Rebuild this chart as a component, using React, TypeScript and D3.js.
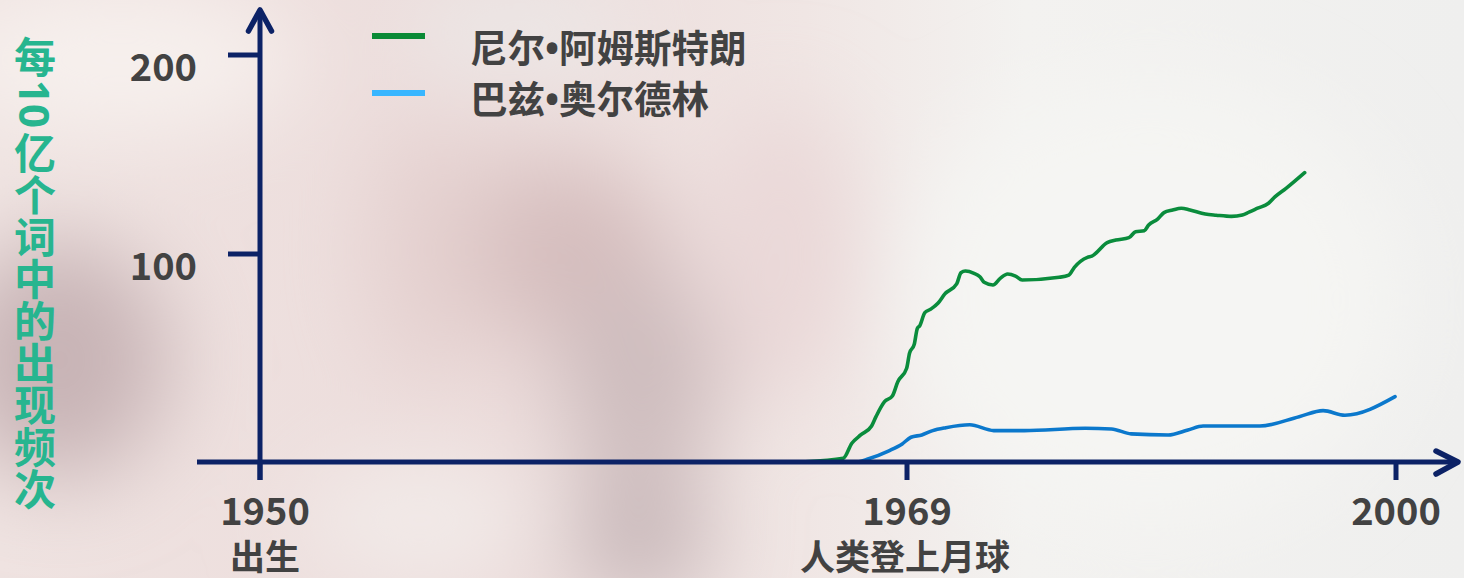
import React from "react";
import * as d3 from "d3";

const W = 1464;
const H = 578;

const xTickYears = [1950, 1969, 2000];
const xTickLabels = ["1950", "1969", "2000"];
const xTickNotes = ["出生", "人类登上月球", ""];
const yTicks = [100, 200];
const yTitleParts = ["每", "10", "亿个词中的出现频次"];

const seriesNames = ["尼尔•阿姆斯特朗", "巴兹•奥尔德林"];
const lineColors = ["#0a8c3c", "#0b78cc"];
const legendColors = ["#0a8a36", "#38b6ff"];

const armstrongYears = [
  1966.01, 1967.13, 1967.38, 1967.64, 1967.96, 1968.09, 1968.34, 1968.57, 1968.73, 1968.99,
  1969.16, 1969.46, 1969.66, 1969.8, 1970.13, 1970.49, 1970.96, 1971.4, 1972.15, 1972.42,
  1972.7, 1973.25, 1973.62, 1973.89, 1974.45, 1974.91, 1975.38, 1975.88, 1976.3, 1978.65,
  1979.26, 1979.61, 1980.44, 1980.72, 1981.69, 1982.24, 1983.07, 1983.49, 1984.04, 1984.32,
  1984.87, 1985.29, 1985.84, 1986.39, 1986.94, 1987.91, 1988.6, 1989.57, 1990.26, 1990.68,
  1991.23, 1991.92, 1992.34, 1993.03, 1994.21,
];
const armstrongValues = [
  0.1, 1.8, 9.0, 13.0, 17.3, 21.8, 29.0, 31.7, 38.6, 45.1,
  52.3, 56.6, 64.3, 65.4, 71.8, 73.4, 76.3, 80.8, 85.6, 91.0,
  91.8, 90.7, 89.1, 86.4, 85.1, 88.3, 90.4, 89.4, 87.5, 88.8,
  89.9, 93.6, 98.4, 99.0, 105.7, 107.0, 108.2, 111.2, 111.7, 114.6,
  117.4, 120.8, 122.1, 123.0, 122.1, 120.1, 119.5, 118.9, 119.6, 121.0,
  123.0, 125.5, 128.8, 133.0, 140.9,
];

const aldrinYears = [
  1966.87, 1967.58, 1967.83, 1968.47, 1968.86, 1969.25, 1969.94, 1970.63, 1971.46, 1972.98,
  1974.5, 1976.44, 1980.3, 1981.96, 1983.21, 1985.56, 1986.81, 1987.77, 1991.37, 1993.86,
  1995.38, 1996.76, 1999.94,
];
const aldrinValues = [
  0.0, 0.1, 1.3, 5.4, 8.7, 11.9, 13.0, 15.1, 16.5, 17.9,
  15.1, 15.1, 16.2, 15.9, 13.5, 13.0, 15.4, 17.3, 17.3, 21.8,
  24.7, 22.5, 31.4,
];

const AXIS = "#0c2266";
const TEXT = "#424242";
const TEAL = "#27b58f";
const FONT = "'Noto Sans CJK SC', 'Noto Sans', sans-serif";
const LATIN = "'Noto Sans', 'DejaVu Sans', sans-serif";

export default function App() {
  const x = d3.scaleLinear().domain([1950, 1969, 2000]).range([260, 907, 1396]);
  const y = d3.scaleLinear().domain([0, 100, 200]).range([462, 254, 55]);
  const x0 = x(1950);
  const y0 = y(0);

  const line = d3
    .line<[number, number]>()
    .x((d) => x(d[0]))
    .y((d) => y(d[1]))
    .curve(d3.curveMonotoneX);

  const series = [
    armstrongYears.map((yr, i) => [yr, armstrongValues[i]] as [number, number]),
    aldrinYears.map((yr, i) => [yr, aldrinValues[i]] as [number, number]),
  ];

  const vertical = { writingMode: "vertical-rl" } as React.CSSProperties;

  return (
    <svg
      width={W}
      height={H}
      viewBox={`0 0 ${W} ${H}`}
      style={{ position: "absolute", left: 0, top: 0, display: "block" }}
      fontFamily={FONT}
    >
      <defs>
        <filter id="blur" x="-50%" y="-50%" width="200%" height="200%">
          <feGaussianBlur stdDeviation="45" />
        </filter>
        <linearGradient id="bgGrad" x1="0" y1="0" x2="1" y2="0">
          <stop offset="0" stopColor="#efe3e1" />
          <stop offset="0.35" stopColor="#ecdcdb" />
          <stop offset="0.55" stopColor="#f0e6e4" />
          <stop offset="0.7" stopColor="#f3f2f0" />
          <stop offset="1" stopColor="#efefee" />
        </linearGradient>
      </defs>
      <rect x={0} y={0} width={W} height={H} fill="url(#bgGrad)" />
      <g filter="url(#blur)">
        <ellipse cx={60} cy={360} rx={110} ry={120} fill="#c8b4b6" />
        <ellipse cx={120} cy={60} rx={180} ry={70} fill="#f7f1ee" />
        <ellipse cx={560} cy={250} rx={110} ry={90} fill="#d6bebe" />
        <ellipse cx={640} cy={380} rx={80} ry={110} fill="#cdbcbd" />
        <ellipse cx={640} cy={540} rx={70} ry={60} fill="#c6b6b8" />
        <ellipse cx={430} cy={250} rx={60} ry={130} fill="#e4d0cf" />
        <ellipse cx={780} cy={250} rx={80} ry={150} fill="#ead8d8" />
        <ellipse cx={520} cy={30} rx={120} ry={40} fill="#eceae9" />
        <ellipse cx={420} cy={520} rx={120} ry={60} fill="#f2ebe9" />
        <ellipse cx={1150} cy={300} rx={250} ry={220} fill="#f5f5f3" />
      </g>

      {/* legend */}
      {seriesNames.map((name, i) => {
        const parts = name.split("•");
        return (
          <g key={name}>
            <line
              x1={372}
              x2={425}
              y1={36 + i * 57}
              y2={36 + i * 57}
              stroke={legendColors[i]}
              strokeWidth={6}
            />
            <text x={470} y={62 + i * 51} fontSize={37.5} fontWeight={700} fill={TEXT}>
              {parts[0]}
              <tspan fontFamily={LATIN}>•</tspan>
              {parts[1]}
            </text>
          </g>
        );
      })}

      {/* data lines */}
      {series.map((s, i) => (
        <path
          key={i}
          d={line(s) || ""}
          fill="none"
          stroke={lineColors[i]}
          strokeWidth={3.6}
          strokeLinejoin="round"
          strokeLinecap="round"
        />
      ))}

      {/* axes */}
      <g stroke={AXIS} strokeWidth={5} fill="none">
        <line x1={x0} x2={x0} y1={12} y2={480} />
        <line x1={197} x2={1456} y1={y0} y2={y0} />
        <polyline
          points={`${x0 - 11.5},31 ${x0},10 ${x0 + 11.5},31`}
          strokeLinecap="round"
          strokeLinejoin="round"
          strokeWidth={5.5}
        />
        <polyline
          points={`1436,451 1458,${y0} 1436,474`}
          strokeLinecap="round"
          strokeLinejoin="round"
          strokeWidth={5.5}
        />
        {yTicks.map((t) => (
          <line key={t} x1={228} x2={x0} y1={y(t)} y2={y(t)} />
        ))}
        {xTickYears.map((t) => (
          <line key={t} x1={x(t)} x2={x(t)} y1={y0} y2={480} />
        ))}
      </g>

      {/* y tick labels */}
      {yTicks.map((t) => (
        <text
          key={t}
          x={197}
          y={y(t) + 26}
          textAnchor="end"
          fontSize={38}
          fontWeight={700}
          fill={TEXT}
        >
          {t}
        </text>
      ))}

      {/* x tick labels */}
      {xTickYears.map((t, i) => (
        <g key={t}>
          <text
            x={x(t) + (i === 0 ? 5 : 0)}
            y={525}
            textAnchor="middle"
            fontSize={38}
            fontWeight={700}
            fill={TEXT}
          >
            {xTickLabels[i]}
          </text>
          {xTickNotes[i] && (
            <text
              x={x(t) + (i === 0 ? 5 : -2)}
              y={570}
              textAnchor="middle"
              fontSize={35}
              fontWeight={700}
              fill={TEXT}
            >
              {xTickNotes[i]}
            </text>
          )}
        </g>
      ))}

      {/* y title: vertical, digits sideways */}
      <g fill={TEAL} fontSize={42} fontWeight={700}>
        <text x={35} y={36} style={vertical}>
          {yTitleParts[0]}
        </text>
        <text
          transform="translate(35, 80) rotate(90)"
          x={0}
          y={0}
          dominantBaseline="central"
          fontFamily={LATIN}
        >
          {yTitleParts[1]}
        </text>
        <text x={35} y={132} style={vertical}>
          {yTitleParts[2]}
        </text>
      </g>
    </svg>
  );
}
